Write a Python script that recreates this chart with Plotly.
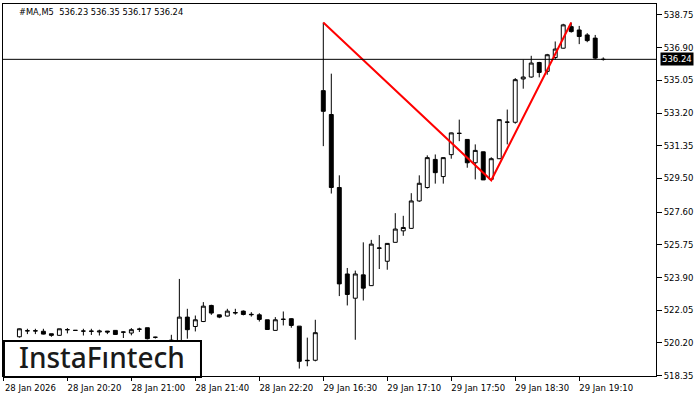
import plotly.graph_objects as go

symbol = "#MA,M5"
opens = [520.30, 520.25, 520.55, 520.88, 520.89, 520.86, 520.72, 520.63, 520.95, 520.91,
         520.87, 520.87, 520.82, 520.87, 520.91, 520.82, 520.76, 520.97, 521.06, 520.52,
         520.30, 520.30, 520.30, 521.66, 521.13, 521.41, 522.32, 521.79, 521.72, 521.92,
         522.00, 521.82, 521.79, 521.51, 520.91, 521.53, 521.57, 521.15, 519.22, 519.22,
         534.47, 533.12, 528.99, 524.10, 522.73, 524.05, 523.44, 525.55, 524.82, 525.89,
         526.54, 526.68, 528.23, 528.99, 530.58, 529.61, 530.85, 532.06, 531.71, 530.39,
         531.01, 529.45, 530.62, 532.68, 532.68, 535.13, 535.24, 536.06, 535.56, 536.34,
         536.87, 538.09, 537.90, 537.62, 537.44, 536.23]
highs = [520.33, 520.32, 521.02, 521.00, 521.00, 521.00, 520.72, 521.00, 521.04, 520.92,
         521.00, 521.00, 520.95, 520.88, 520.93, 520.85, 521.04, 521.06, 521.06, 520.55,
         520.33, 520.66, 523.82, 522.13, 521.75, 522.51, 522.36, 521.80, 522.13, 522.13,
         522.04, 521.94, 521.88, 521.51, 521.66, 521.98, 521.60, 521.15, 520.50, 521.51,
         538.32, 535.43, 529.68, 524.44, 524.29, 525.89, 526.03, 526.30, 525.85, 527.54,
         527.39, 528.67, 529.68, 530.81, 530.86, 530.70, 532.10, 532.83, 531.72, 531.43,
         531.02, 530.70, 532.85, 533.40, 535.18, 536.22, 536.44, 536.10, 536.55, 537.25,
         538.25, 538.32, 538.13, 537.72, 537.62, 536.35]
lows = [520.20, 520.18, 520.50, 520.70, 520.70, 520.68, 520.55, 520.60, 520.74, 520.90,
        520.62, 520.65, 520.62, 520.70, 520.66, 520.48, 520.63, 520.82, 520.40, 520.45,
        520.20, 520.25, 520.25, 520.44, 520.85, 521.38, 521.79, 521.60, 521.70, 521.80,
        521.76, 521.69, 521.41, 520.96, 520.90, 521.19, 521.06, 518.75, 518.88, 519.16,
        531.33, 528.65, 522.85, 522.32, 520.38, 522.60, 523.42, 524.38, 524.34, 525.88,
        526.26, 526.66, 528.18, 528.93, 529.21, 529.21, 530.62, 531.61, 530.11, 529.45,
        529.42, 529.40, 530.60, 531.43, 532.60, 534.58, 535.20, 535.22, 535.37, 536.22,
        536.85, 537.75, 537.10, 537.21, 536.25, 536.17]
closes = [520.25, 520.28, 521.00, 520.89, 520.88, 520.70, 520.63, 521.00, 520.95, 520.91,
          520.87, 520.86, 520.87, 520.82, 520.68, 520.81, 520.95, 520.98, 520.44, 520.52,
          520.25, 520.35, 521.66, 520.95, 521.51, 522.28, 521.89, 521.66, 522.00, 521.90,
          521.81, 521.80, 521.53, 520.96, 521.51, 521.54, 521.19, 519.16, 519.20, 520.78,
          533.30, 528.99, 523.54, 522.94, 524.10, 523.30, 525.79, 525.57, 525.83, 526.64,
          526.73, 528.23, 529.23, 530.68, 529.83, 530.68, 532.08, 532.05, 530.39, 531.09,
          529.42, 530.62, 532.83, 532.69, 535.09, 535.24, 536.03, 535.50, 536.50, 536.82,
          538.19, 537.81, 537.53, 537.30, 536.31, 536.24]

tick_bars = [0, 8, 16, 24, 32, 40, 48, 56, 64, 72]
tick_labels = ["28 Jan 2026", "28 Jan 20:20", "28 Jan 21:00", "28 Jan 21:40", "28 Jan 22:20",
               "29 Jan 16:30", "29 Jan 17:10", "29 Jan 17:50", "29 Jan 18:30", "29 Jan 19:10"]
price_ticks = [518.35, 520.20, 522.05, 523.90, 525.75, 527.60, 529.50, 531.35,
               533.20, 535.05, 536.90, 538.75]

# pattern pivots (bar index, which price)
pattern_bars = [40, 61, 71]
pattern_kind = ["high", "low", "high"]

bars = list(range(len(opens)))
font = "DejaVu Sans"

fig = go.Figure()
fig.add_trace(go.Candlestick(
    x=bars, open=opens, high=highs, low=lows, close=closes,
    increasing=dict(line=dict(color="black", width=1), fillcolor="white"),
    decreasing=dict(line=dict(color="black", width=1), fillcolor="black"),
    whiskerwidth=0, hoverinfo="skip",
))

py = [highs[b] if k == "high" else lows[b] for b, k in zip(pattern_bars, pattern_kind)]
fig.add_trace(go.Scatter(x=pattern_bars, y=py, mode="lines",
                         line=dict(color="#ff0000", width=2), hoverinfo="skip"))

last = closes[-1]
fig.add_shape(type="line", xref="paper", x0=0, x1=1, yref="y", y0=last, y1=last,
              line=dict(color="black", width=1), layer="above")

fig.add_annotation(xref="paper", x=1, xanchor="left", xshift=4, yref="y", y=last,
                   yanchor="middle", text=f"{last:.2f}", showarrow=False, bgcolor="black",
                   font=dict(family=font, size=8.5, color="white"), borderpad=1)

header = f"{symbol}  {opens[-1]:.2f} {highs[-1]:.2f} {lows[-1]:.2f} {closes[-1]:.2f}"
fig.add_annotation(xref="paper", x=0.021, xanchor="left", yref="paper", y=1, yanchor="top",
                   yshift=-1, text=header, showarrow=False,
                   font=dict(family=font, size=8.3, color="black"))

# logo
fig.add_shape(type="rect", xref="paper", yref="paper", x0=0.0015, x1=0.3032, y0=-0.003, y1=0.094,
              line=dict(color="black", width=2), fillcolor="white", layer="above")
fig.add_annotation(xref="paper", yref="paper", x=0.1516, y=0.05, xanchor="center",
                   yanchor="middle", text="InstaFıntech", showarrow=False,
                   font=dict(family="Noto Sans", size=28, color="#1a1a1a", weight=500))

fig.update_layout(
    width=700, height=400, autosize=False,
    margin=dict(l=3, r=44, t=4, b=24),
    paper_bgcolor="white", plot_bgcolor="white", showlegend=False,
    xaxis=dict(range=[-0.05, 81.6], tickvals=tick_bars, ticktext=tick_labels,
               ticks="outside", ticklen=4, tickcolor="black", showline=True,
               linecolor="black", linewidth=1, mirror=True, showgrid=False, zeroline=False,
               rangeslider=dict(visible=False), ticklabelshift=27, automargin=False,
               tickfont=dict(family=font, size=8.5, color="black")),
    yaxis=dict(side="right", range=[518.33, 539.37], tickvals=price_ticks,
               ticktext=[f"{v:.2f}" for v in price_ticks], ticks="outside", ticklen=5,
               tickcolor="black", showline=True, linecolor="black", linewidth=1,
               mirror=True, showgrid=False, zeroline=False, automargin=False,
               tickfont=dict(family=font, size=8.5, color="black")),
)

fig.write_html("out.html", config={"displayModeBar": False},
               post_script="document.body.style.margin='0';")
